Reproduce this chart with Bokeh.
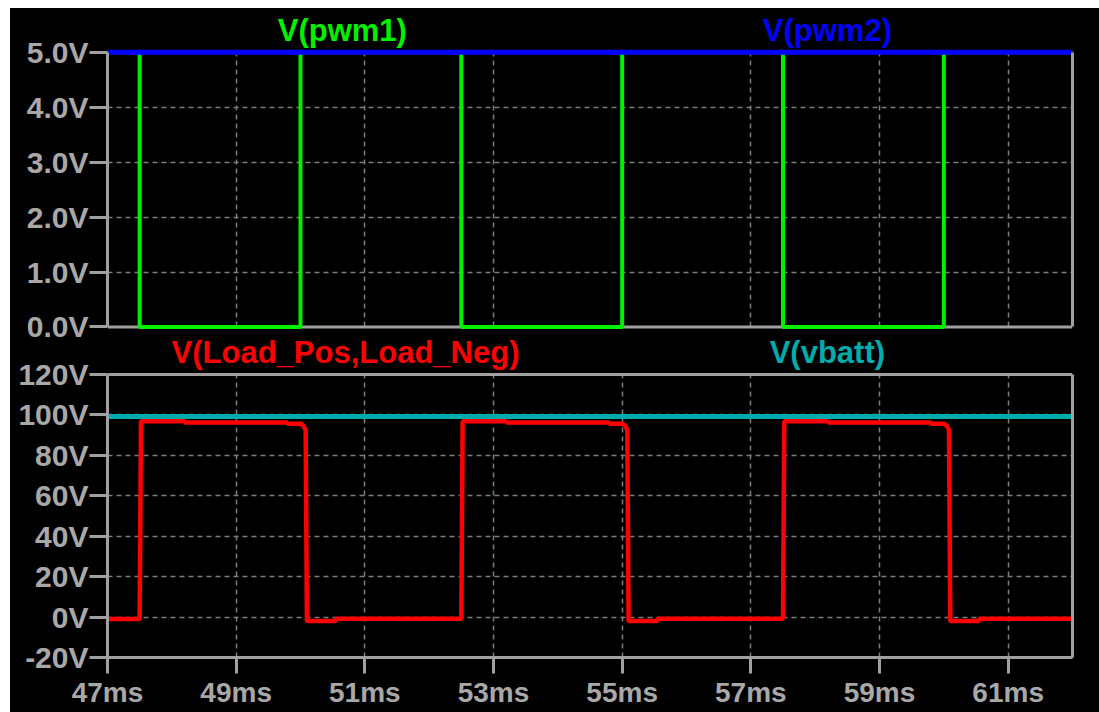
from bokeh.plotting import figure
from bokeh.layouts import column
from bokeh.models import (FixedTicker, PrintfTickFormatter, Label, Range1d, Span,
                          LinearAxis, Grid, BoxAnnotation)
from bokeh.embed import file_html
from bokeh.resources import INLINE

# ---------------- data ----------------
x_ticks = [47, 49, 51, 53, 55, 57, 59, 61]
x_grid = [49, 51, 53, 55, 57, 59, 61]
top_ticks = [0, 1, 2, 3, 4, 5]
top_grid = [1, 2, 3, 4]
bot_ticks = [-20, 0, 20, 40, 60, 80, 100, 120]
bot_grid = [0, 20, 40, 60, 80, 100]

# V(pwm1) step breakpoints (ms, V)
t_pwm1 = [47.0, 47.5, 50.0, 52.5, 55.0, 57.5, 60.0, 62.0]
v_pwm1 = [5.0, 0.0, 5.0, 0.0, 5.0, 0.0, 5.0, 5.0]
# V(pwm2)
t_pwm2 = [47.0, 62.0]
v_pwm2 = [5.0, 5.0]
# V(Load_Pos,Load_Neg)
t_load = [47.00, 47.50, 47.52, 48.20, 48.20, 49.80, 49.80, 50.00, 50.05, 50.08, 50.10, 50.55, 50.55,
          52.50, 52.52, 53.20, 53.20, 54.80, 54.80, 55.00, 55.05, 55.08, 55.10, 55.55, 55.55,
          57.50, 57.52, 58.20, 58.20, 59.80, 59.80, 60.00, 60.05, 60.08, 60.10, 60.55, 60.55, 62.00]
v_load = [-1.0, -1.0, 96.9, 96.9, 96.3, 96.3, 95.7, 95.7, 94.6, 92.5, -2.0, -2.0, -0.8,
          -0.8, 96.9, 96.9, 96.3, 96.3, 95.7, 95.7, 94.6, 92.5, -2.0, -2.0, -0.8,
          -0.8, 96.9, 96.9, 96.3, 96.3, 95.7, 95.7, 94.6, 92.5, -2.0, -2.0, -0.8, -0.8]
# V(vbatt)
t_vbatt = [47.0, 62.0]
v_vbatt = [99.2, 99.2]

# pane value limits
top_lim = (0, 5)
bot_lim = (-20, 120)

# ---------------- style ----------------
GREEN = "#00f000"
BLUE = "#0000ff"
RED = "#ff0000"
CYAN = "#00abab"
FRAME = "#a0a0a0"
TXT = "#a8a8a8"
GRID = "#7c7c7c"
FONT = "Liberation Sans"

W = 1089
x_range = Range1d(47, 62)
HAS_CROSS = "cross_bounds" in Grid.properties()


def style(p, yticks, ygrid, fmt, lim):
    p.outline_line_color = None
    p.yaxis.bounds = lim
    p.yaxis.ticker = FixedTicker(ticks=yticks)
    p.yaxis.formatter = PrintfTickFormatter(format=fmt)
    p.yaxis.axis_line_color = FRAME
    p.yaxis.axis_line_width = 3
    p.yaxis.major_tick_line_color = FRAME
    p.yaxis.major_tick_line_width = 3
    p.yaxis.major_tick_in = 0
    p.yaxis.major_tick_out = 18
    p.yaxis.minor_tick_line_color = None
    p.yaxis.major_label_standoff = 1
    p.yaxis.major_label_text_color = TXT
    p.yaxis.major_label_text_font = FONT
    p.yaxis.major_label_text_font_style = "bold"
    p.yaxis.major_label_text_font_size = "30px"
    p.xaxis.ticker = FixedTicker(ticks=x_ticks)
    p.xgrid.ticker = FixedTicker(ticks=x_grid)
    p.ygrid.ticker = FixedTicker(ticks=ygrid)
    for g in (p.xgrid, p.ygrid):
        g.grid_line_color = GRID
        g.grid_line_dash = "5 4"
        g.grid_line_width = 1.5
    if HAS_CROSS:
        p.xgrid.cross_bounds = lim
    else:
        p.add_layout(BoxAnnotation(bottom=lim[1], fill_color="black", fill_alpha=1,
                                   line_color=None, level="underlay"))
    # frame: right edge, top & bottom edges
    right = LinearAxis(bounds=lim, ticker=FixedTicker(ticks=[]), axis_line_color=FRAME,
                       axis_line_width=3, major_tick_line_color=None,
                       minor_tick_line_color=None, major_label_text_font_size="0px",
                       major_label_standoff=0)
    p.add_layout(right, "right")
    p.add_layout(Span(location=lim[1], dimension="width", line_color=FRAME,
                      line_width=3, level="underlay"))
    p.add_layout(Span(location=lim[0], dimension="width", line_color=FRAME,
                      line_width=3, level="underlay"))


def title_label(p, x, y, text, color, dy):
    p.add_layout(Label(x=x, y=y, y_offset=dy, text=text, text_color=color,
                       text_font=FONT, text_font_style="bold", text_font_size="31px",
                       text_align="center", text_baseline="alphabetic"))


# ---------------- top pane ----------------
# frame spans the whole figure height (title strip included)
top = figure(width=W, height=345, x_range=x_range, y_range=Range1d(-0.0455, 5.795),
             output_backend="svg", toolbar_location=None,
             min_border_left=97, min_border_right=27, min_border_top=0, min_border_bottom=24)
top.background_fill_color = "black"
top.border_fill_color = "black"
style(top, top_ticks, top_grid, "%.1fV", top_lim)
top.xaxis.visible = False

top.step(t_pwm1, v_pwm1, mode="after", line_color=GREEN, line_width=4)
top.line(t_pwm2, v_pwm2, line_color=BLUE, line_width=5)

title_label(top, 50.65, 5, "V(pwm1)", GREEN, 21.5)
title_label(top, 58.19, 5, "V(pwm2)", BLUE, 21.5)

# ---------------- bottom pane ----------------
# transparent, slightly overlapping the top pane's lower border
bot = figure(width=W, height=386, x_range=x_range, y_range=Range1d(-20, 143.75),
             output_backend="svg", toolbar_location=None,
             min_border_left=97, min_border_right=27, min_border_top=0, min_border_bottom=55)
bot.background_fill_alpha = 0
bot.border_fill_alpha = 0
bot.margin = (-27, 0, 0, 0)
style(bot, bot_ticks, bot_grid, "%dV", bot_lim)
bot.xaxis.formatter = PrintfTickFormatter(format="%dms")
bot.xaxis.axis_line_color = FRAME
bot.xaxis.axis_line_width = 3
bot.xaxis.major_tick_line_color = FRAME
bot.xaxis.major_tick_line_width = 3
bot.xaxis.major_tick_in = 0
bot.xaxis.major_tick_out = 16
bot.xaxis.minor_tick_line_color = None
bot.xaxis.major_label_standoff = 3
bot.xaxis.major_label_text_color = TXT
bot.xaxis.major_label_text_font = FONT
bot.xaxis.major_label_text_font_style = "bold"
bot.xaxis.major_label_text_font_size = "28px"

bot.line(t_vbatt, v_vbatt, line_color=CYAN, line_width=5)
bot.line(t_load, v_load, line_color=RED, line_width=4.5)

title_label(bot, 50.70, 120, "V(Load_Pos,Load_Neg)", RED, 22)
title_label(bot, 58.19, 120, "V(vbatt)", CYAN, 22)

layout = column(top, bot, spacing=0, margin=(8, 0, 0, 10),
                styles={"background-color": "black"})
open("out.html", "w").write(file_html(layout, INLINE))
